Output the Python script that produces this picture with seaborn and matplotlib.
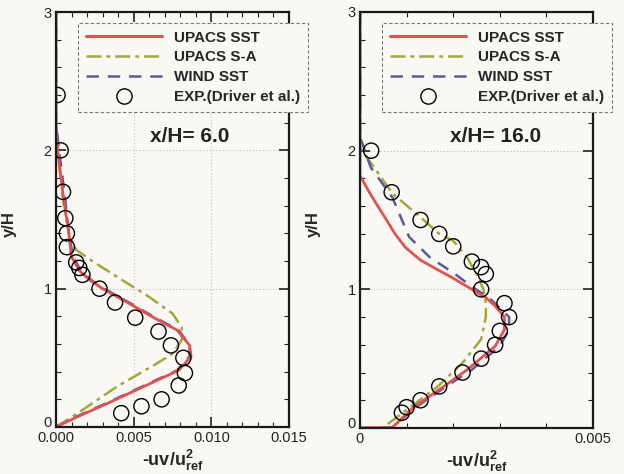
import numpy as np
import pandas as pd
import matplotlib
matplotlib.use("Agg")
import matplotlib.pyplot as plt
import matplotlib.transforms as mtransforms
from matplotlib.lines import Line2D
from matplotlib.ticker import MultipleLocator, FixedLocator
import seaborn as sns

# ---------------- data ----------------
# x/H = 6.0
sst6_y = [0, 0.07, 0.17, 0.29, 0.41, 0.51, 0.59, 0.70, 0.79, 0.90, 1.00, 1.06, 1.13, 1.23, 1.42, 1.64, 2.0, 2.2, 3.0]
sst6_x = [0, 0.0013, 0.0033, 0.0056, 0.0079, 0.0087, 0.0086, 0.0078, 0.0063, 0.0046, 0.0030, 0.0022, 0.0015, 0.0010, 0.0008, 0.0005, 0.0001, 0.0, 0.0]
wind6_y = sst6_y
wind6_x = [0, 0.0012, 0.0032, 0.0055, 0.0078, 0.0086, 0.0086, 0.0079, 0.0064, 0.0047, 0.0031, 0.0023, 0.0016, 0.0011, 0.0008, 0.0006, 0.0002, 0.0, 0.0]
sa6_y = [0, 0.07, 0.29, 0.46, 0.53, 0.63, 0.72, 0.82, 0.94, 1.06, 1.18, 1.28, 1.37, 1.6, 2.0, 2.2, 3.0]
sa6_x = [0, 0.0010, 0.0039, 0.0065, 0.0075, 0.0081, 0.0081, 0.0075, 0.0060, 0.0043, 0.0026, 0.0013, 0.0009, 0.0005, 0.0001, 0.0, 0.0]
exp6_y = [0.10, 0.15, 0.20, 0.30, 0.39, 0.50, 0.59, 0.69, 0.79, 0.90, 1.00, 1.10, 1.15, 1.19, 1.30, 1.40, 1.51, 1.70, 2.00, 2.40]
exp6_x = [0.0042, 0.0055, 0.0068, 0.0079, 0.0083, 0.0082, 0.0074, 0.0066, 0.0051, 0.0038, 0.0028, 0.0017, 0.0015, 0.0013, 0.0007, 0.0007, 0.0006, 0.00045, 0.0003, 0.0001]

# x/H = 16.0
sst16_y = [0, 0.005, 0.15, 0.30, 0.42, 0.59, 0.71, 0.80, 0.88, 0.94, 0.98, 1.08, 1.15, 1.21, 1.30, 1.40, 1.50, 1.59, 1.70, 1.82, 3.0]
sst16_x = [0, 0.0007, 0.00115, 0.0018, 0.0023, 0.0029, 0.0031, 0.0031, 0.0029, 0.0027, 0.0025, 0.0020, 0.00162, 0.0013, 0.00098, 0.00075, 0.00057, 0.0004, 0.0002, 0.0, 0.0]
wind16_y = [0, 0.005, 0.15, 0.30, 0.42, 0.59, 0.71, 0.80, 0.93, 1.02, 1.12, 1.23, 1.38, 1.66, 1.88, 2.1, 3.0]
wind16_x = [0, 0.0007, 0.0012, 0.00185, 0.0024, 0.0030, 0.0032, 0.0032, 0.0028, 0.0024, 0.0020, 0.0015, 0.00105, 0.0007, 0.00023, 0.0, 0.0]
sa16_y = [0, 0.005, 0.08, 0.30, 0.47, 0.64, 0.80, 0.90, 1.00, 1.11, 1.23, 1.35, 1.40, 1.52, 1.69, 1.88, 2.02, 3.0]
sa16_x = [0, 0.0005, 0.0008, 0.00167, 0.0022, 0.0026, 0.0027, 0.0027, 0.00265, 0.0025, 0.0023, 0.0020, 0.0017, 0.0013, 0.0007, 0.0003, 0.0, 0.0]
exp16_y = [0.11, 0.15, 0.20, 0.30, 0.40, 0.50, 0.60, 0.70, 0.80, 0.90, 1.00, 1.11, 1.16, 1.20, 1.31, 1.40, 1.50, 1.70, 2.00]
exp16_x = [0.0009, 0.0010, 0.0013, 0.0017, 0.0022, 0.0026, 0.0029, 0.0030, 0.0032, 0.0031, 0.0026, 0.0027, 0.0026, 0.0024, 0.0020, 0.0017, 0.0013, 0.00068, 0.00024]

series_labels = ["UPACS SST", "UPACS S-A", "WIND SST", "EXP.(Driver et al.)"]
panel_titles = ["x/H= 6.0", "x/H= 16.0"]
x_ticks_left = [0.0, 0.005, 0.010, 0.015]
x_ticklabels_left = ["0.000", "0.005", "0.010", "0.015"]
x_ticks_right = [0.0, 0.005]
x_ticklabels_right = ["0", "0.005"]
y_ticks = [0, 1, 2, 3]

# ---------------- style ----------------
sns.set_style("ticks")
plt.rcParams["font.family"] = ["Liberation Sans", "DejaVu Sans"]
plt.rcParams["mathtext.fontset"] = "custom"
plt.rcParams["mathtext.bf"] = "Liberation Sans:bold"
plt.rcParams["mathtext.rm"] = "Liberation Sans:bold"
plt.rcParams["mathtext.default"] = "bf"

BG = "#f9f8f4"
C_SST = "#e0524f"
C_SA = "#a3a83a"
C_WIND = "#5b5a9c"

fig = plt.figure(figsize=(6.24, 4.74), dpi=100, facecolor=BG)
axL = fig.add_axes([56/624, 1-427/474, (289-56)/624, (427-12)/474])
axR = fig.add_axes([360/624, 1-428/474, (593-360)/624, (428-12)/474])

panels = [
    (axL, sst6_x, sst6_y, sa6_x, sa6_y, wind6_x, wind6_y, exp6_x, exp6_y, 0.015),
    (axR, sst16_x, sst16_y, sa16_x, sa16_y, wind16_x, wind16_y, exp16_x, exp16_y, 0.005),
]
title_pos = [(0.575, 0.70), (0.58, 0.70)]

for i, (ax, sx, sy, ax_, ay, wx, wy, ex, ey, xmax) in enumerate(panels):
    ax.set_facecolor(BG)
    sns.lineplot(x=ax_, y=ay, orient="y", estimator=None, sort=True, ax=ax,
                 color=C_SA, lw=1.8, linestyle=(0, (6, 2, 1.5, 2)))
    sns.lineplot(x=wx, y=wy, orient="y", estimator=None, sort=True, ax=ax,
                 color=C_WIND, lw=1.8, linestyle=(0, (5, 3.5)))
    sns.lineplot(x=sx, y=sy, orient="y", estimator=None, sort=True, ax=ax,
                 color=C_SST, lw=2.0)
    sns.scatterplot(x=ex, y=ey, ax=ax, marker="o", s=120, facecolors="none",
                    edgecolor="black", linewidth=1.0, zorder=5)

    ax.set_xlim(0, xmax)
    ax.set_ylim(0, 3)
    ax.yaxis.set_major_locator(FixedLocator(y_ticks))
    ax.yaxis.set_minor_locator(MultipleLocator(0.2))
    ax.xaxis.set_minor_locator(MultipleLocator(0.001))
    if i == 0:
        ax.set_xticks(x_ticks_left)
        ax.set_xticklabels(x_ticklabels_left)
    else:
        ax.set_xticks(x_ticks_right)
        ax.set_xticklabels(x_ticklabels_right)
    ax.set_yticklabels([str(t) for t in y_ticks])

    ax.tick_params(which="both", direction="in", top=True, right=True,
                   labelsize=10.5, colors="#222222", pad=3)
    ax.tick_params(which="major", length=7, width=1.2)
    ax.tick_params(which="minor", length=3.5, width=0.8)
    for sp in ax.spines.values():
        sp.set_linewidth(1.6)
        sp.set_color("#1a1a1a")

    # nudge the y "0" label slightly up so it sits above the x "0" label
    lab0 = ax.get_yticklabels()[0]
    lab0.set_transform(lab0.get_transform() +
                       mtransforms.ScaledTranslation(0, 4/72, fig.dpi_scale_trans))

    # grid at major ticks
    for gy in [1, 2]:
        ax.axhline(gy, color="#b8b8b8", lw=0.8, ls=(0, (1, 2)), zorder=0)
    if i == 0:
        for gx in [0.005, 0.010]:
            ax.axvline(gx, color="#c4c4c4", lw=0.8, ls=(0, (1, 2)), zorder=0)

    ax.set_ylabel("y/H", fontsize=12, fontweight="bold", labelpad=6)
    ax.set_xlabel(r"-uv/u$^{2}_{ref}$", fontsize=13, fontweight="bold", labelpad=2)

    ax.text(title_pos[i][0], title_pos[i][1], panel_titles[i], transform=ax.transAxes,
            ha="center", va="center", fontsize=15, fontweight="bold", color="#222222")

    handles = [
        Line2D([], [], color=C_SST, lw=2.2),
        Line2D([], [], color=C_SA, lw=1.8, linestyle=(0, (6, 2, 1.5, 2))),
        Line2D([], [], color=C_WIND, lw=1.8, linestyle=(0, (5, 3.5))),
        Line2D([], [], color="black", marker="o", markersize=11, markerfacecolor="none",
               markeredgewidth=1.0, linestyle="none"),
    ]
    lx = 78/624 if i == 0 else 382/624
    leg = ax.legend(handles, series_labels, loc="upper left",
                    bbox_to_anchor=(lx, 1-23/474), bbox_transform=fig.transFigure,
                    borderaxespad=0, handlelength=5.0, handletextpad=0.8,
                    labelspacing=0.38, borderpad=0.5,
                    prop={"weight": "bold", "size": 11}, fancybox=False,
                    framealpha=1, facecolor=BG)
    fr = leg.get_frame()
    fr.set_edgecolor("#777777")
    fr.set_linewidth(0.8)
    fr.set_linestyle((0, (3, 2)))

axL.yaxis.set_label_coords(-0.17, 0.49)
axR.yaxis.set_label_coords(-0.17, 0.49)

fig.savefig("out.png", dpi=100, facecolor=BG)
